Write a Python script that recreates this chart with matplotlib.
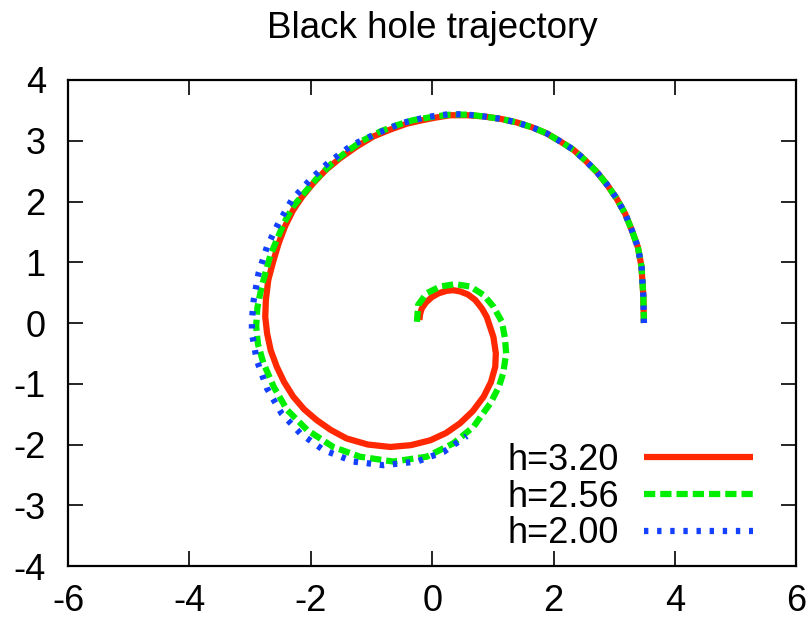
import numpy as np
import matplotlib
matplotlib.use('agg')
import matplotlib.pyplot as plt

plt.rcParams['font.family'] = ['Liberation Sans', 'DejaVu Sans']
plt.rcParams['axes.unicode_minus'] = False

# trajectory points (x, y)
x_320 = [3.49, 3.48, 3.45, 3.39, 3.29, 3.18, 3.04, 2.88, 2.71, 2.52, 2.33, 2.11, 1.89, 1.65,
         1.40, 1.13, 0.85, 0.58, 0.30, 0.05, -0.20, -0.42, -0.70, -0.97, -1.25, -1.52, -1.75,
         -1.96, -2.14, -2.29, -2.42, -2.53, -2.62, -2.70, -2.74, -2.75, -2.72, -2.66, -2.56,
         -2.44, -2.29, -2.11, -1.90, -1.67, -1.41, -1.06, -0.69, -0.35, -0.03, 0.23, 0.46,
         0.67, 0.85, 0.97, 1.04, 1.05, 1.01, 0.90, 0.82, 0.71, 0.59, 0.46, 0.35, 0.24, 0.11,
         0.00, -0.10, -0.17, -0.20, -0.21]
y_320 = [0.00, 0.45, 0.93, 1.25, 1.53, 1.80, 2.05, 2.28, 2.49, 2.68, 2.85, 2.99, 3.12, 3.22,
         3.30, 3.36, 3.40, 3.42, 3.42, 3.38, 3.33, 3.28, 3.18, 3.07, 2.90, 2.71, 2.52,
         2.30, 2.08, 1.86, 1.60, 1.31, 1.01, 0.71, 0.38, 0.10, -0.17, -0.45, -0.72,
         -0.97, -1.21, -1.42, -1.60, -1.76, -1.90, -2.00, -2.04, -2.01, -1.93, -1.81, -1.65,
         -1.45, -1.21, -0.97, -0.72, -0.50, -0.23, 0.10, 0.24, 0.38, 0.47, 0.52, 0.54, 0.53, 0.49,
         0.43, 0.34, 0.24, 0.14, 0.05]

x_256 = [3.49, 3.48, 3.45, 3.39, 3.29, 3.18, 3.04, 2.88, 2.71, 2.52, 2.33, 2.11, 1.89, 1.65,
         1.40, 1.13, 0.85, 0.58, 0.30, 0.05, -0.31, -0.60, -0.86, -1.15, -1.41, -1.67, -1.90,
         -2.10, -2.29, -2.44, -2.56, -2.67, -2.75, -2.82, -2.88, -2.90, -2.87, -2.78, -2.61,
         -2.39, -2.06, -1.63, -1.19, -0.64, -0.09, 0.35, 0.68, 0.96, 1.10, 1.17, 1.22, 1.20,
         1.15, 1.01, 0.85, 0.63, 0.38, 0.13, -0.09, -0.23, -0.25]
y_256 = [0.00, 0.45, 0.93, 1.25, 1.53, 1.80, 2.05, 2.28, 2.49, 2.68, 2.85, 2.99, 3.12, 3.22,
         3.30, 3.36, 3.40, 3.43, 3.43, 3.40, 3.34, 3.25, 3.15, 3.00, 2.82, 2.61, 2.38,
         2.15, 1.92, 1.65, 1.37, 1.10, 0.82, 0.55, 0.25, -0.05, -0.35, -0.66, -1.05,
         -1.43, -1.76, -2.04, -2.20, -2.28, -2.20, -1.98, -1.71, -1.32, -1.05, -0.83, -0.50, -0.25,
         0.02, 0.27, 0.46, 0.60, 0.64, 0.60, 0.49, 0.30, 0.02]

x_200 = [3.49, 3.48, 3.45, 3.39, 3.29, 3.18, 3.04, 2.88, 2.71, 2.52, 2.33, 2.11, 1.89, 1.65,
         1.40, 1.13, 0.85, 0.58, 0.30, -0.09, -0.50, -0.91, -1.32, -1.71, -2.01, -2.31,
         -2.53, -2.72, -2.86, -2.94, -2.97, -2.97, -2.89, -2.72, -2.48, -2.17, -1.79, -1.30,
         -0.80, -0.25, 0.19, 0.57]
y_200 = [0.00, 0.45, 0.93, 1.25, 1.53, 1.80, 2.05, 2.28, 2.49, 2.68, 2.85, 2.99, 3.12, 3.22,
         3.30, 3.36, 3.40, 3.43, 3.44, 3.39, 3.29, 3.12, 2.93, 2.64, 2.36, 2.03,
         1.65, 1.26, 0.82, 0.38, 0.05, -0.17, -0.61, -1.08, -1.49, -1.82, -2.09, -2.28,
         -2.34, -2.28, -2.12, -1.86]

labels = ['h=3.20', 'h=2.56', 'h=2.00']

fig = plt.figure(figsize=(8.1, 6.2), dpi=100)
ax = fig.add_axes([0.084, 0.087, 0.899, 0.784])

lw = 4.5
ax.plot(x_320, y_320, color='#ff2800', lw=lw, solid_capstyle='butt', label=labels[0])
ax.plot(x_256, y_256, color='#00ee00', lw=lw, dashes=(1.8, 0.8), dash_capstyle='butt',
        label=labels[1])
ax.plot(x_200, y_200, color='#1440ff', lw=lw, dashes=(0.7, 1.4), dash_capstyle='butt',
        label=labels[2])

ax.set_xlim(-6, 6)
ax.set_ylim(-4, 4)
ax.set_xticks(np.arange(-6, 7, 2))
ax.set_yticks(np.arange(-4, 5, 1))
ax.tick_params(direction='in', length=11, width=1.2, top=True, right=True,
               labelsize=26, pad=13)
ax.tick_params(axis='y', pad=16)
for s in ax.spines.values():
    s.set_linewidth(1.6)

ax.set_title('Black hole trajectory', fontsize=26.5, pad=30)

ax.legend(loc='lower right', bbox_to_anchor=(0.94, 0.03), frameon=False, markerfirst=False,
          fontsize=26, handlelength=3.0, handletextpad=0.7, labelspacing=0.05,
          borderpad=0, borderaxespad=0)

fig.savefig('out.png', dpi=100)
plt.close(fig)
